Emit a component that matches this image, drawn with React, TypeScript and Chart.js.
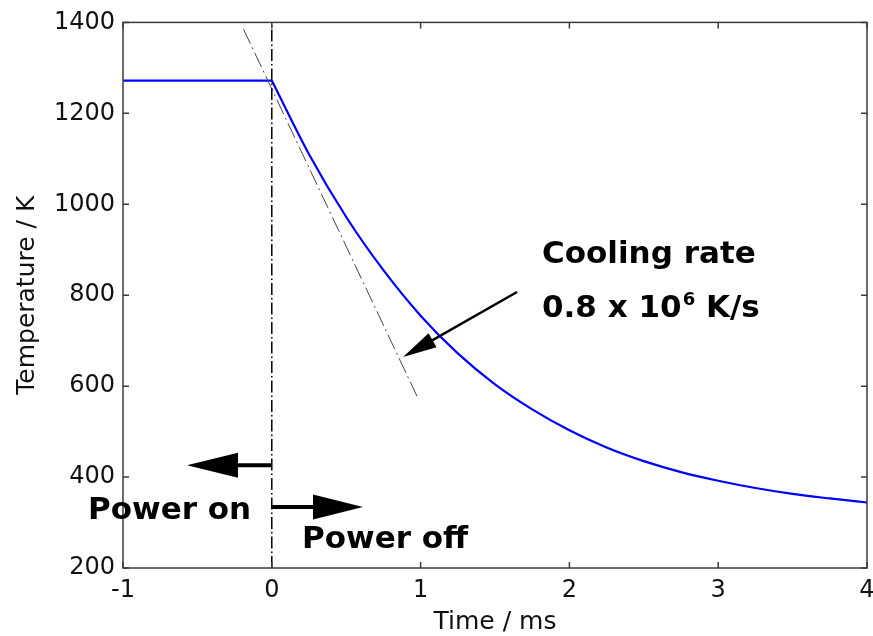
import React, { useEffect, useRef } from "react";
import { Chart, registerables } from "chart.js";

Chart.register(...registerables);

// ---- data ----
const xTicks = [-1, 0, 1, 2, 3, 4];
const yTicks = [200, 400, 600, 800, 1000, 1200, 1400];

const flatTime = [-1, 0];
const flatTemp = [1272, 1272];

const coolTime = [0, 0.25, 0.5, 0.75, 1, 1.25, 1.5, 1.75, 2, 2.25, 2.5, 2.75, 3, 3.25, 3.5, 3.75, 4];
const coolTemp = [1272, 1110, 972, 855, 755, 672, 604, 549, 503, 465, 435, 411, 392, 376, 363, 353, 344];

const tangentTime = [-0.19, 0.98];
const tangentTemp = [1385, 575];

const markerTime = [0, 0];
const markerTemp = [200, 1400];

const toXY = (xs: number[], ys: number[]) => xs.map((v, i) => ({ x: v, y: ys[i] }));

const BOLD = "bold 31px 'DejaVu Sans', sans-serif";

const overlay = {
  id: "overlay",
  afterDraw(chart: any) {
    const { ctx, chartArea: a, scales } = chart;
    const sx = scales.x;
    const sy = scales.y;
    const px = (v: number) => sx.getPixelForValue(v);
    const py = (v: number) => sy.getPixelForValue(v);
    ctx.save();

    // frame and inward ticks
    ctx.strokeStyle = "#3c3c3c";
    ctx.lineWidth = 1.5;
    ctx.setLineDash([]);
    ctx.strokeRect(a.left, a.top, a.right - a.left, a.bottom - a.top);
    ctx.beginPath();
    xTicks.forEach((v) => {
      const p = px(v);
      ctx.moveTo(p, a.bottom);
      ctx.lineTo(p, a.bottom - 6);
      ctx.moveTo(p, a.top);
      ctx.lineTo(p, a.top + 6);
    });
    yTicks.forEach((v) => {
      const p = py(v);
      ctx.moveTo(a.left, p);
      ctx.lineTo(a.left + 6, p);
      ctx.moveTo(a.right, p);
      ctx.lineTo(a.right - 6, p);
    });
    ctx.stroke();

    const arrow = (x1: number, y1: number, x2: number, y2: number, w: number, hl: number, hw: number) => {
      const dx = x2 - x1;
      const dy = y2 - y1;
      const len = Math.hypot(dx, dy);
      const ux = dx / len;
      const uy = dy / len;
      const bx = x2 - ux * hl;
      const by = y2 - uy * hl;
      ctx.strokeStyle = "#000";
      ctx.fillStyle = "#000";
      ctx.lineWidth = w;
      ctx.beginPath();
      ctx.moveTo(x1, y1);
      ctx.lineTo(bx + ux * 2, by + uy * 2);
      ctx.stroke();
      ctx.beginPath();
      ctx.moveTo(x2, y2);
      ctx.lineTo(bx - uy * hw, by + ux * hw);
      ctx.lineTo(bx + uy * hw, by - ux * hw);
      ctx.closePath();
      ctx.fill();
    };

    // power on / off arrows
    arrow(px(0), py(426), px(-0.57), py(426), 4, 51, 12.5);
    arrow(px(0), py(334), px(0.613), py(334), 4, 50, 12.5);
    // cooling-rate arrow
    arrow(px(1.648), py(807), px(0.882), py(664), 2.5, 34, 8);

    // texts
    ctx.fillStyle = "#000";
    ctx.font = BOLD;
    ctx.textBaseline = "alphabetic";
    ctx.textAlign = "left";
    ctx.fillText("Power on", px(-1.235), py(308));
    ctx.fillText("Power off", px(0.203), py(244));
    ctx.fillText("Cooling rate", px(1.816), py(870));
    let tx = px(1.816);
    const ty = py(752);
    const part1 = "0.8 x 10";
    ctx.fillText(part1, tx, ty);
    tx += ctx.measureText(part1).width + 1;
    ctx.font = "bold 18px 'DejaVu Sans', sans-serif";
    ctx.fillText("6", tx, ty - 12);
    tx += ctx.measureText("6").width;
    ctx.font = BOLD;
    ctx.fillText(" K/s", tx, ty);

    ctx.restore();
  },
};

export default function App() {
  const ref = useRef<HTMLCanvasElement | null>(null);

  useEffect(() => {
    if (!ref.current) return;
    const chart = new Chart(ref.current, {
      type: "line",
      data: {
        datasets: [
          {
            data: toXY(markerTime, markerTemp),
            borderColor: "#000",
            borderWidth: 1.5,
            borderDash: [12, 3, 1.5, 3],
            pointRadius: 0,
          },
          {
            data: toXY(tangentTime, tangentTemp),
            borderColor: "#444",
            borderWidth: 1,
            borderDash: [16, 4, 2, 4],
            pointRadius: 0,
          },
          {
            data: toXY(flatTime, flatTemp),
            borderColor: "#0000ff",
            borderWidth: 2.2,
            pointRadius: 0,
          },
          {
            data: toXY(coolTime, coolTemp),
            borderColor: "#0000ff",
            borderWidth: 2.2,
            pointRadius: 0,
            cubicInterpolationMode: "monotone",
          },
        ],
      },
      options: {
        animation: false,
        responsive: false,
        events: [],
        layout: { padding: { top: 22, right: 6, left: 0, bottom: 0 } },
        plugins: { legend: { display: false }, tooltip: { enabled: false } },
        scales: {
          x: {
            type: "linear",
            min: -1,
            max: 4,
            afterBuildTicks: (s: any) => {
              s.ticks = xTicks.map((v) => ({ value: v }));
            },
            afterFit: (s: any) => {
              s.height = 68;
              s.paddingLeft = 0;
              s.paddingRight = 0;
            },
            grid: { display: false, drawTicks: false },
            border: { display: false },
            ticks: {
              padding: 8,
              color: "#111",
              font: { family: "'DejaVu Sans', sans-serif", size: 24 },
              maxRotation: 0,
              callback: (v: any) => String(v),
            },
            title: {
              display: true,
              text: "Time / ms",
              color: "#111",
              font: { family: "'DejaVu Sans', sans-serif", size: 25, lineHeight: 1 },
              padding: { top: 0, bottom: 1 },
            },
          },
          y: {
            type: "linear",
            min: 200,
            max: 1400,
            afterBuildTicks: (s: any) => {
              s.ticks = yTicks.map((v) => ({ value: v }));
            },
            afterFit: (s: any) => {
              s.width = 123;
            },
            grid: { display: false, drawTicks: false },
            border: { display: false },
            ticks: {
              padding: 8,
              color: "#111",
              font: { family: "'DejaVu Sans', sans-serif", size: 24 },
              callback: (v: any) => String(v),
            },
            title: {
              display: true,
              text: "Temperature / K",
              color: "#111",
              font: { family: "'DejaVu Sans', sans-serif", size: 25, lineHeight: 1 },
              padding: { top: 15, bottom: 0 },
            },
          },
        },
      },
      plugins: [overlay],
    } as any);
    return () => chart.destroy();
  }, []);

  return (
    <div style={{ position: "fixed", left: 0, top: 0, width: 873, height: 636, background: "#fff" }}>
      <canvas ref={ref} width={873} height={636} style={{ display: "block" }} />
    </div>
  );
}
